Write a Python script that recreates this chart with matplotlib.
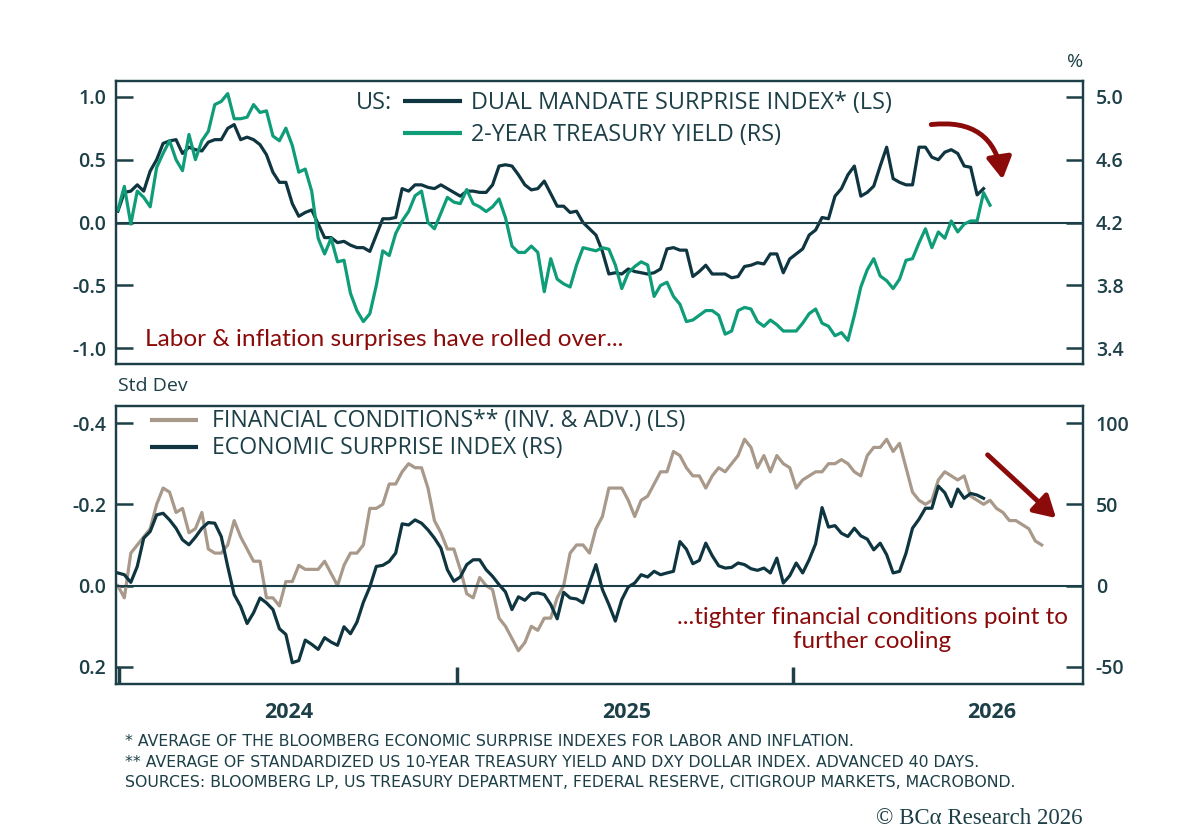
import matplotlib
matplotlib.use('Agg')
import matplotlib.pyplot as plt
import pandas as pd

# weekly readings, first point end of June 2023 ---------------------------
dual_mandate = [0.09, 0.24, 0.25, 0.30, 0.25, 0.41, 0.50, 0.63, 0.65, 0.66,
                0.55, 0.60, 0.58, 0.57, 0.64, 0.66, 0.66, 0.75, 0.78, 0.66,
                0.68, 0.66, 0.62, 0.54, 0.40, 0.32, 0.32, 0.15, 0.05, 0.08,
                0.10, -0.01, -0.12, -0.12, -0.16, -0.15, -0.18, -0.20, -0.20, -0.23,
                -0.10, 0.03, 0.03, 0.04, 0.27, 0.25, 0.30, 0.30, 0.28, 0.27,
                0.30, 0.27, 0.24, 0.21, 0.25, 0.25, 0.24, 0.24, 0.30, 0.45,
                0.46, 0.45, 0.38, 0.30, 0.26, 0.27, 0.33, 0.23, 0.13, 0.13,
                0.08, 0.09, 0.00, -0.05, -0.10, -0.23, -0.41, -0.40, -0.41, -0.37,
                -0.39, -0.40, -0.41, -0.40, -0.37, -0.21, -0.20, -0.22, -0.22, -0.43,
                -0.39, -0.34, -0.41, -0.41, -0.41, -0.44, -0.43, -0.35, -0.34, -0.32,
                -0.33, -0.25, -0.25, -0.40, -0.29, -0.25, -0.21, -0.10, -0.06, 0.04,
                0.03, 0.21, 0.27, 0.38, 0.45, 0.21, 0.24, 0.29, 0.45, 0.60,
                0.35, 0.32, 0.30, 0.30, 0.60, 0.60, 0.52, 0.50, 0.56, 0.58,
                0.55, 0.45, 0.44, 0.22, 0.27]

ust2y = [4.28, 4.43, 4.19, 4.40, 4.36, 4.30, 4.55, 4.64, 4.72, 4.60,
         4.53, 4.76, 4.60, 4.72, 4.78, 4.95, 4.97, 5.02, 4.86, 4.86,
         4.87, 4.95, 4.90, 4.91, 4.75, 4.72, 4.80, 4.69, 4.52, 4.54,
         4.40, 4.10, 4.00, 4.10, 3.95, 3.96, 3.75, 3.64, 3.57, 3.62,
         3.80, 4.02, 3.99, 4.13, 4.21, 4.27, 4.37, 4.40, 4.20, 4.16,
         4.26, 4.36, 4.33, 4.32, 4.41, 4.32, 4.30, 4.27, 4.30, 4.35,
         4.23, 4.05, 4.01, 4.01, 4.05, 4.01, 3.76, 3.97, 3.84, 3.81,
         3.79, 3.93, 4.04, 4.03, 4.02, 4.04, 4.03, 3.93, 3.78, 3.88,
         3.92, 3.95, 3.93, 3.73, 3.80, 3.82, 3.73, 3.68, 3.57, 3.58,
         3.61, 3.64, 3.64, 3.61, 3.49, 3.51, 3.64, 3.66, 3.65, 3.57,
         3.54, 3.58, 3.55, 3.51, 3.51, 3.51, 3.56, 3.62, 3.65, 3.56,
         3.54, 3.48, 3.50, 3.45, 3.61, 3.79, 3.90, 3.97, 3.86, 3.83,
         3.78, 3.84, 3.96, 3.97, 4.07, 4.16, 4.04, 4.14, 4.10, 4.21,
         4.14, 4.19, 4.21, 4.21, 4.39, 4.31]

# financial conditions, inverted & advanced 40 days (std dev)
fin_cond = [0.00, 0.03, -0.08, -0.10, -0.12, -0.14, -0.20, -0.24, -0.23, -0.18,
            -0.19, -0.13, -0.14, -0.18, -0.09, -0.08, -0.08, -0.10, -0.16, -0.12,
            -0.09, -0.06, -0.06, 0.03, 0.03, 0.05, -0.01, -0.01, -0.05, -0.04,
            -0.04, -0.04, -0.06, -0.03, 0.00, -0.05, -0.08, -0.08, -0.10, -0.19,
            -0.19, -0.20, -0.25, -0.25, -0.28, -0.30, -0.29, -0.29, -0.24, -0.16,
            -0.13, -0.09, -0.09, -0.04, 0.02, 0.03, -0.02, 0.00, 0.01, 0.08,
            0.10, 0.13, 0.16, 0.14, 0.10, 0.11, 0.08, 0.08, 0.03, 0.00,
            -0.08, -0.10, -0.10, -0.08, -0.14, -0.17, -0.24, -0.24, -0.24, -0.21,
            -0.17, -0.21, -0.22, -0.25, -0.28, -0.28, -0.33, -0.32, -0.29, -0.27,
            -0.27, -0.24, -0.27, -0.29, -0.28, -0.30, -0.32, -0.36, -0.34, -0.29,
            -0.32, -0.28, -0.32, -0.30, -0.29, -0.24, -0.26, -0.27, -0.28, -0.28,
            -0.30, -0.30, -0.31, -0.30, -0.28, -0.27, -0.32, -0.34, -0.34, -0.36,
            -0.33, -0.35, -0.29, -0.23, -0.21, -0.20, -0.21, -0.26, -0.28, -0.27,
            -0.26, -0.27, -0.22, -0.21, -0.20, -0.21, -0.19, -0.18, -0.16, -0.16,
            -0.15, -0.14, -0.11, -0.10]

econ_surprise = [7.8, 6.7, 2.0, 11.8, 29.2, 33.3, 43.5, 44.5, 40.4, 35.3,
                 28.2, 25.1, 29.8, 35.3, 38.8, 38.4, 30.2, 11.8, -5.5, -12.7,
                 -23.3, -16.7, -7.6, -10.6, -14.7, -26.5, -30.0, -47.4, -46.1, -33.5,
                 -36.1, -39.2, -32.0, -34.7, -36.7, -25.3, -29.6, -22.5, -10.2, -0.8,
                 11.8, 12.5, 14.9, 20.0, 38.0, 37.3, 40.4, 38.4, 34.3, 29.2,
                 23.1, 9.8, 2.7, 5.3, 12.9, 15.9, 15.9, 9.8, 5.7, 0.6,
                 -3.9, -14.7, -6.9, -9.0, -4.9, -4.5, -5.5, -11.6, -20.4, -4.1,
                 -7.6, -8.2, -10.6, 1.6, 12.9, -2.4, -11.6, -21.8, -8.6, -0.8,
                 1.6, 6.7, 5.3, 8.8, 6.7, 7.8, 8.8, 27.1, 22.4, 13.5,
                 15.5, 26.1, 18.4, 12.2, 10.8, 11.2, 13.9, 12.9, 10.4, 9.4,
                 10.8, 7.8, 16.9, 1.6, 6.1, 13.9, 7.8, 15.9, 25.7, 48.0,
                 36.0, 36.9, 32.2, 30.2, 35.3, 30.6, 28.6, 22.0, 26.1, 19.0,
                 7.8, 8.8, 20.0, 35.3, 40.8, 47.6, 47.6, 61.2, 57.1, 48.6,
                 59.4, 53.7, 56.7, 55.7, 53.7]

left_top_ticks = [1.0, 0.5, 0.0, -0.5, -1.0]
right_top_ticks = [5.0, 4.6, 4.2, 3.8, 3.4]
left_bot_ticks = [-0.4, -0.2, 0.0, 0.2]
right_bot_ticks = [100, 50, 0, -50]
year_labels = ['2024', '2025', '2026']
year_label_dates = ['2024-01-01', '2025-01-01', '2026-02-01']
midyear_ticks = ['2023-07-01', '2024-07-01', '2025-07-01']

# ----------------------------------------------------------------

DARK = '#0e3540'
TEXT = '#1d3f47'
GREEN = '#0f9c78'
BEIGE = '#a8998a'
RED = '#8b0a0a'
FONT = 'Open Sans'
NOTE_FONT = 'Lato'

dates = pd.date_range('2023-06-30', periods=len(fin_cond), freq='7D')

plt.rcParams['font.family'] = [FONT, 'DejaVu Sans']

fig = plt.figure(figsize=(12, 8.3), dpi=100)
ax1 = fig.add_axes([0.0967, 0.5614, 0.806, 0.341])
ax2 = fig.add_axes([0.0967, 0.1759, 0.806, 0.335])
ax1r = ax1.twinx()
ax2r = ax2.twinx()

xlim = (pd.Timestamp('2023-06-28'), pd.Timestamp('2026-05-11'))

ax1.plot(dates[:len(dual_mandate)], dual_mandate, color=DARK, lw=2.3)
ax1r.plot(dates[:len(ust2y)], ust2y, color=GREEN, lw=2.3)
ax1.axhline(0, color=TEXT, lw=1.5)

ax2.plot(dates[:len(fin_cond)], fin_cond, color=BEIGE, lw=2.3)
ax2r.plot(dates[:len(econ_surprise)], econ_surprise, color=DARK, lw=2.3)
ax2.axhline(0, color=TEXT, lw=1.5)

ax1.set_ylim(-1.127, 1.127)
ax1r.set_ylim(3.3, 5.1)
ax2.set_ylim(0.242, -0.442)
ax2r.set_ylim(-60.5, 110.5)

for a in (ax1, ax2):
    a.set_xlim(*xlim)

ax1.set_yticks(left_top_ticks)
ax1.set_yticklabels(['%.1f' % v for v in left_top_ticks])
ax1r.set_yticks(right_top_ticks)
ax1r.set_yticklabels(['%.1f' % v for v in right_top_ticks])
ax2.set_yticks(left_bot_ticks)
ax2.set_yticklabels(['%.1f' % v for v in left_bot_ticks])
ax2r.set_yticks(right_bot_ticks)
ax2r.set_yticklabels([str(v) for v in right_bot_ticks])

for a in (ax1, ax1r, ax2, ax2r):
    for s in a.spines.values():
        s.set_color(TEXT)
        s.set_linewidth(1.6)
    a.tick_params(axis='y', direction='in', length=12, width=1.8,
                  color=TEXT, labelcolor=TEXT, labelsize=14)
ax1.tick_params(axis='y', pad=7)
ax2.tick_params(axis='y', pad=7)
ax1r.tick_params(axis='y', pad=9)
ax2r.tick_params(axis='y', pad=9)
for t in (ax1.get_yticklabels() + ax1r.get_yticklabels() +
          ax2.get_yticklabels() + ax2r.get_yticklabels()):
    t.set_fontweight('semibold')

ax1.set_xticks([])
ax2.set_xticks(pd.to_datetime(midyear_ticks))
ax2.set_xticklabels([])
ax2.set_xticks(pd.to_datetime(year_label_dates), minor=True)
ax2.set_xticklabels(year_labels, minor=True)
ax2.tick_params(axis='x', which='major', direction='in', length=12,
                width=2.5, color=TEXT)
ax2.tick_params(axis='x', which='minor', length=0, pad=13,
                labelsize=15.5, labelcolor=TEXT)
for t in ax2.get_xticklabels(minor=True):
    t.set_fontweight('bold')

# legends --------------------------------------------------------
LEG = 16.8
ax1.text(0.285, 0.923, 'US:', transform=ax1.transAxes, ha='right',
         va='center', fontsize=LEG, color=TEXT)
ax1.plot([0.297, 0.358], [0.929, 0.929], transform=ax1.transAxes,
         color=DARK, lw=3, solid_capstyle='butt')
ax1.plot([0.297, 0.358], [0.816, 0.816], transform=ax1.transAxes,
         color=GREEN, lw=3, solid_capstyle='butt')
ax1.text(0.367, 0.923, 'DUAL MANDATE SURPRISE INDEX* (LS)',
         transform=ax1.transAxes, va='center', fontsize=LEG, color=TEXT)
ax1.text(0.367, 0.810, '2-YEAR TREASURY YIELD (RS)',
         transform=ax1.transAxes, va='center', fontsize=LEG, color=TEXT)

ax2.plot([0.035, 0.085], [0.950, 0.950], transform=ax2.transAxes,
         color=BEIGE, lw=3, solid_capstyle='butt')
ax2.plot([0.035, 0.085], [0.853, 0.853], transform=ax2.transAxes,
         color=DARK, lw=3, solid_capstyle='butt')
ax2.text(0.099, 0.945, 'FINANCIAL CONDITIONS** (INV. & ADV.) (LS)',
         transform=ax2.transAxes, va='center', fontsize=16.6, color=TEXT)
ax2.text(0.099, 0.848, 'ECONOMIC SURPRISE INDEX (RS)',
         transform=ax2.transAxes, va='center', fontsize=16.6, color=TEXT)

# notes & arrows -------------------------------------------------
ax1.text(0.030, 0.085, 'Labor & inflation surprises have rolled over...',
         transform=ax1.transAxes, va='center', fontsize=17.6, color=RED,
         family=NOTE_FONT)
ax2.text(0.782, 0.195, '...tighter financial conditions point to\nfurther cooling',
         transform=ax2.transAxes, ha='center', va='center', fontsize=17.5,
         color=RED, family=NOTE_FONT, linespacing=1.2)

ax1.annotate('', xy=(0.917, 0.643), xytext=(0.840, 0.845),
             xycoords='axes fraction', textcoords='axes fraction',
             arrowprops=dict(arrowstyle='-|>,head_length=1.3,head_width=0.75',
                             color=RED, lw=3.5,
                             connectionstyle='arc3,rad=-0.5'))
ax2.annotate('', xy=(0.974, 0.590), xytext=(0.899, 0.831),
             xycoords='axes fraction', textcoords='axes fraction',
             arrowprops=dict(arrowstyle='-|>,head_length=1.3,head_width=0.75',
                             color=RED, lw=3.5))

fig.text(1075 / 1200, 1 - 62 / 830, '%', ha='center', va='center',
         fontsize=14, color=TEXT)
fig.text(118 / 1200, 1 - 386 / 830, 'Std Dev', ha='left', va='center',
         fontsize=14, color=TEXT)

notes = ['* AVERAGE OF THE BLOOMBERG ECONOMIC SURPRISE INDEXES FOR LABOR AND INFLATION.',
         '** AVERAGE OF STANDARDIZED US 10-YEAR TREASURY YIELD AND DXY DOLLAR INDEX. ADVANCED 40 DAYS.',
         'SOURCES: BLOOMBERG LP, US TREASURY DEPARTMENT, FEDERAL RESERVE, CITIGROUP MARKETS, MACROBOND.']
for i, n in enumerate(notes):
    fig.text(125 / 1200, 1 - (742 + 20 * i) / 830, n, ha='left', va='center',
             fontsize=11.3, color=TEXT, family=['DejaVu Sans'])
fig.text(1083 / 1200, 1 - 818 / 830, '© BCα Research 2026', ha='right',
         va='center', fontsize=16.5, color=TEXT,
         family=['Liberation Serif', 'DejaVu Serif'])

fig.savefig('out.png', dpi=100)
